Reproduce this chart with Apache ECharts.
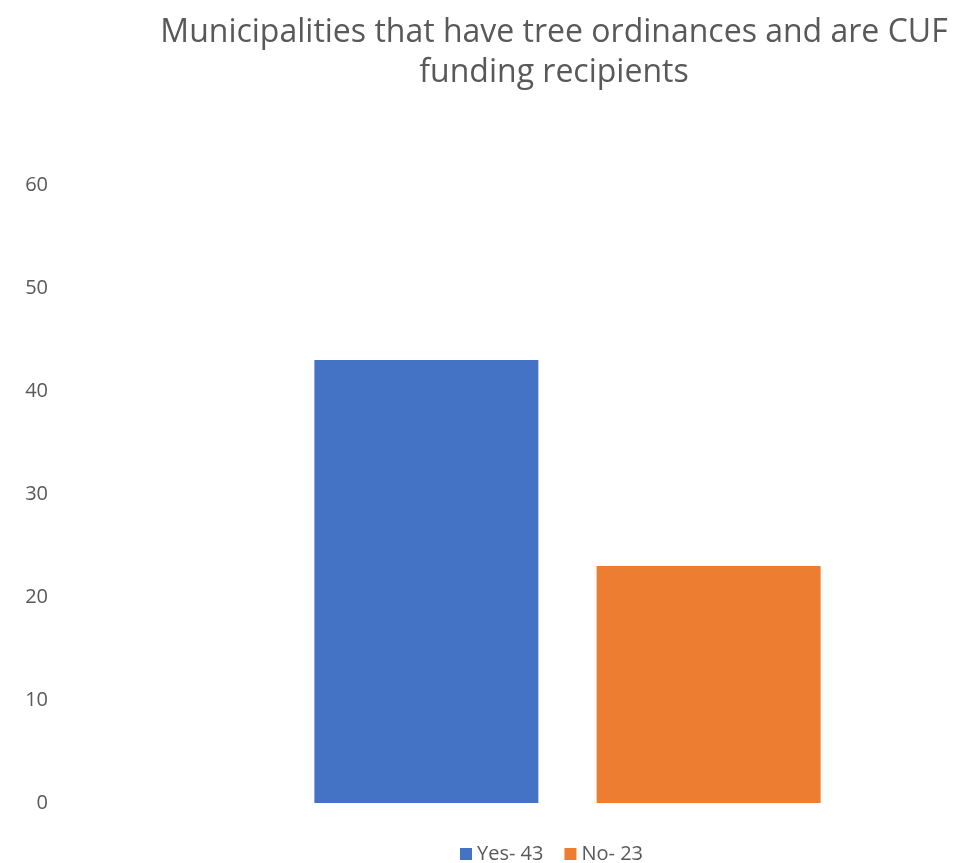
<!DOCTYPE html>
<html>
<head>
<meta charset="utf-8">
<script src="https://cdn.jsdelivr.net/npm/echarts@6/dist/echarts.min.js"></script>
<style>html,body{margin:0;padding:0;background:#fff;}#c{width:965px;height:863px;}</style>
</head>
<body>
<div id="c"></div>
<script>
const titleText = "Municipalities that have tree ordinances and are CUF\nfunding recipients";
const categories = [""];
const seriesNames = ["Yes- 43", "No- 23"];
const yesValues = [43];
const noValues = [23];
const yTicks = { min: 0, max: 60, interval: 10 };

const chart = echarts.init(document.getElementById('c'), null, { renderer: 'canvas' });
const font = '"Open Sans", "Noto Sans", sans-serif';
chart.setOption({
  animation: false,
  backgroundColor: '#ffffff',
  title: {
    text: titleText,
    left: 549, textAlign: 'center', top: 8,
    textStyle: { fontFamily: font, fontSize: 32, fontWeight: 'normal', color: '#595959', lineHeight: 40 }
  },
  legend: {
    top: 839, left: 455,
    itemWidth: 12, itemHeight: 12, itemGap: 21,
    icon: 'rect',
    textStyle: { fontFamily: font, fontSize: 20, color: '#595959' },
    data: seriesNames
  },
  grid: { left: 170, right: 0, top: 185, bottom: 60 },
  xAxis: {
    type: 'category', data: categories,
    axisLine: { show: false }, axisTick: { show: false }, axisLabel: { show: false }
  },
  yAxis: {
    type: 'value', min: yTicks.min, max: yTicks.max, interval: yTicks.interval,
    splitLine: { show: false }, axisLine: { show: false }, axisTick: { show: false },
    axisLabel: { margin: 122, fontFamily: font, fontSize: 20, color: '#595959' }
  },
  series: [
    { name: seriesNames[0], type: 'bar', data: yesValues, barWidth: 224, barGap: '26%', itemStyle: { color: '#4472C4' } },
    { name: seriesNames[1], type: 'bar', data: noValues, barWidth: 224, itemStyle: { color: '#ED7D31' } }
  ]
});
</script>
</body>
</html>
